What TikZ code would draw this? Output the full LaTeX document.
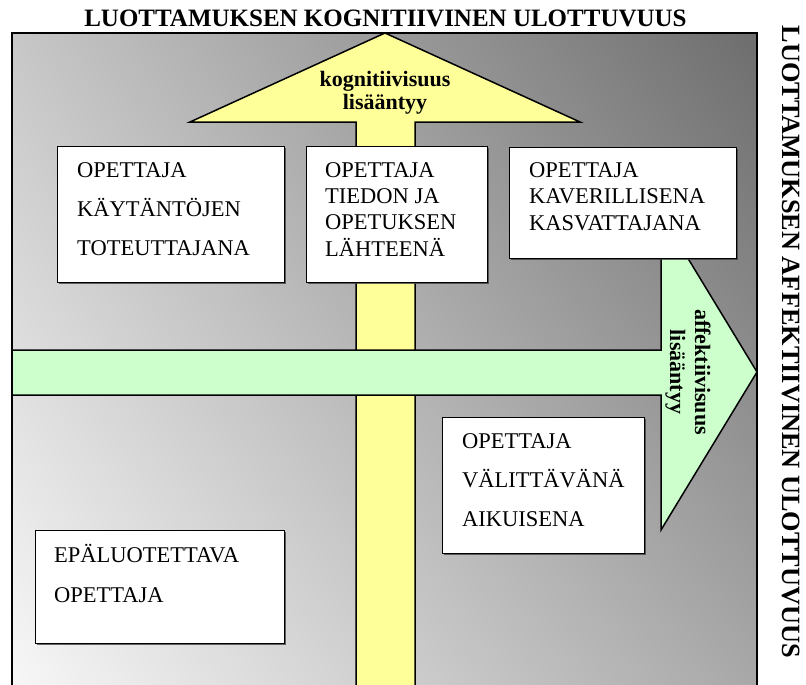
\documentclass[tikz,border=0pt]{standalone}
\usepackage{fontspec}
\setmainfont{Liberation Serif}
\usetikzlibrary{shadows,shadings}
\definecolor{yel}{HTML}{FFFF99}
\definecolor{grn}{HTML}{CCFFCC}
\begin{document}
\begin{tikzpicture}[x=1pt,y=-1pt,
  tbox/.style={draw, line width=1.1pt, fill=white, inner sep=0pt, anchor=north west,
    drop shadow={shadow xshift=1.6pt, shadow yshift=-1.6pt, fill=black!75, opacity=0.8}},
  ln/.style={anchor=base west, inner sep=0pt, font=\fontsize{22.5}{27}\selectfont},
  arrlbl/.style={anchor=base, inner sep=0pt, font=\bfseries\fontsize{22}{26}\selectfont},
  title/.style={anchor=base, inner sep=0pt, font=\bfseries\fontsize{25}{30}\selectfont},
  arrowshape/.style={draw=black, line width=1.5pt, line join=miter}]
\useasboundingbox (0,0) rectangle (806,685);
\clip (0,0) rectangle (806,685);
% background panel
\shade[upper left=black!22, upper right=black!57, lower left=black!3, lower right=black!34]
  (12,33) rectangle (757,690);
\draw[line width=1.2pt] (12,690) -- (12,33) -- (757,33) -- (757,690);
% titles
\node[title] (ttop) at (385.5,27) {LUOTTAMUKSEN KOGNITIIVINEN ULOTTUVUUS};
\node[title, rotate=-90, font=\bfseries\fontsize{26.3}{30}\selectfont] (tright) at (782,342) {LUOTTAMUKSEN AFFEKTIIVINEN ULOTTUVUUS};
% yellow arrow (cognitive)
\draw[arrowshape, fill=yel] (356,692) -- (356,122) -- (190,122) -- (385,33) -- (580,122) -- (415,122) -- (415,692);
\node[arrlbl] (ya) at (385,87) {kognitiivisuus};
\node[arrlbl] (yb) at (385,110) {lisääntyy};
% green arrow (affective)
\draw[arrowshape, fill=grn] (12,350) -- (661,350) -- (661,214) -- (757,372) -- (661,530) -- (661,395) -- (12,395) -- cycle;
\node[arrlbl, rotate=-90] (ga) at (695,372) {affektiivisuus};
\node[arrlbl, rotate=-90] (gb) at (670,372) {lisääntyy};
% boxes
\node[tbox, minimum width=227pt, minimum height=136pt] (b1) at (57,146) {};
\node[ln] (b1a) at (77,177) {OPETTAJA};
\node[ln] (b1b) at (77,216) {KÄYTÄNTÖJEN};
\node[ln] (b1c) at (77,255) {TOTEUTTAJANA};

\node[tbox, minimum width=181pt, minimum height=136pt] (b2) at (306,146) {};
\node[ln] (b2a) at (325,177) {OPETTAJA};
\node[ln] (b2b) at (325,203) {TIEDON JA};
\node[ln] (b2c) at (325,229) {OPETUKSEN};
\node[ln] (b2d) at (325,256) {LÄHTEENÄ};

\node[tbox, minimum width=227pt, minimum height=111pt] (b3) at (509,147) {};
\node[ln] (b3a) at (529,177) {OPETTAJA};
\node[ln] (b3b) at (529,203) {KAVERILLISENA};
\node[ln] (b3c) at (529,230) {KASVATTAJANA};

\node[tbox, minimum width=202pt, minimum height=136pt] (b4) at (442,417) {};
\node[ln] (b4a) at (462,448) {OPETTAJA};
\node[ln] (b4b) at (462,487) {VÄLITTÄVÄNÄ};
\node[ln] (b4c) at (462,526) {AIKUISENA};

\node[tbox, minimum width=249pt, minimum height=113pt] (b5) at (35,530) {};
\node[ln] (b5a) at (54,562) {EPÄLUOTETTAVA};
\node[ln] (b5b) at (54,602) {OPETTAJA};
\end{tikzpicture}
\end{document}
